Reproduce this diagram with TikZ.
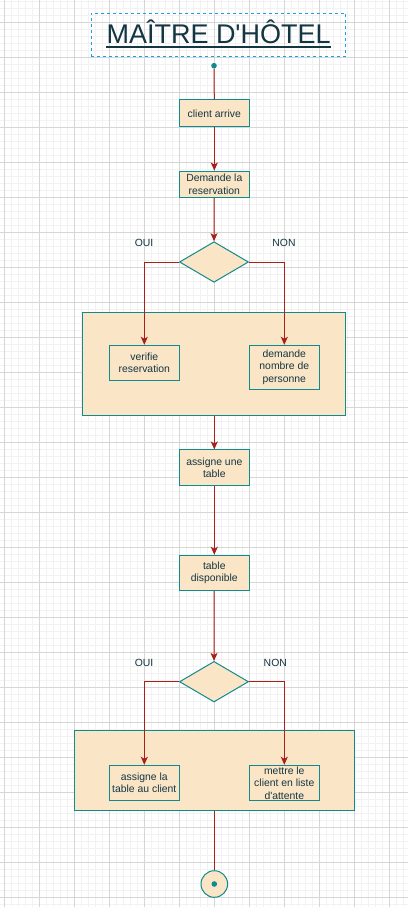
\documentclass[tikz,border=0pt]{standalone}
\usepackage{fontspec}
\setmainfont{Liberation Sans}
\usetikzlibrary{shapes.geometric,arrows.meta}

\definecolor{peach}{HTML}{FAE5C7}
\definecolor{tealline}{HTML}{0F8B8D}
\definecolor{flowred}{HTML}{A8201A}
\definecolor{ink}{HTML}{143642}
\definecolor{titleblue}{HTML}{1BA1E2}
\definecolor{gridmajor}{HTML}{D6D6D6}
\definecolor{gridminor}{HTML}{F2F2F2}

\tikzset{
  labelfont/.style={font=\fontsize{10.4}{12.4}\selectfont, text=ink},
  stepbox/.style={rectangle, draw=tealline, fill=peach, line width=1pt,
    minimum width=70pt, inner sep=0pt, align=center, labelfont},
  groupbox/.style={rectangle, draw=tealline, fill=peach, line width=1pt, inner sep=0pt},
  choice/.style={diamond, draw=tealline, fill=peach, line width=1pt, inner sep=0pt,
    minimum width=69pt, minimum height=40.6pt},
  branchlabel/.style={labelfont, inner sep=0pt},
  flow/.style={draw=flowred, line width=1pt},
  flowarrow/.style={flow, -{Stealth[length=8pt, width=7pt, inset=2pt]}},
  dot/.style={circle, fill=tealline, inner sep=0pt, minimum size=5.6pt},
}

\begin{document}
\begin{tikzpicture}[x=1pt, y=-1pt]
  \useasboundingbox (0,0) rectangle (408,907);
  \fill[white] (0,0) rectangle (408,907);

  % background grid: fine lines every 7, strong lines every 35
  \foreach \k in {0,...,58} {
    \draw[gridminor, line width=0.8pt] ({4.3+7*\k},0) -- ({4.3+7*\k},907);
  }
  \foreach \k in {0,...,129} {
    \draw[gridminor, line width=0.8pt] (0,{1+7*\k}) -- (408,{1+7*\k});
  }
  \foreach \k in {0,...,11} {
    \draw[gridmajor, line width=0.8pt] ({4.3+35*\k},0) -- ({4.3+35*\k},907);
  }
  \foreach \k in {0,...,25} {
    \draw[gridmajor, line width=0.8pt] (0,{22+35*\k}) -- (408,{22+35*\k});
  }

  % title
  \node[draw=titleblue, line width=1pt, dash pattern=on 3pt off 3pt,
        minimum width=254.7pt, minimum height=43.4pt, inner sep=0pt] (titlebox) at (218.4,35) {};
  \node[font=\fontsize{27}{32}\selectfont, text=ink, inner sep=0pt, anchor=base]
        (title) at (218.6,44) {MAÎTRE D\textquotesingle HÔTEL\hspace{0.278em}};
  \draw[ink, line width=1.8pt] ([yshift=-2.8pt]title.base west) -- ([yshift=-2.8pt]title.base east);

  % start
  \node[dot] (start) at (214,65.7) {};

  % first block
  \node[stepbox, minimum height=26.7pt] (arrive) at (214.3,113.3) {client arrive};
  \node[stepbox, minimum height=26.3pt] (askres) at (214.3,184.2) {Demande la\\reservation};
  \node[choice] (dec1) at (214,262) {};
  \node[branchlabel] (oui1) at (144,243.3) {OUI};
  \node[branchlabel] (non1) at (284,243.3) {NON};

  \node[groupbox, minimum width=262.7pt, minimum height=103.4pt] (group1) at (214.3,364) {};
  \node[stepbox, minimum height=35.4pt] (verify) at (144.3,363) {verifie\\reservation};
  \node[stepbox, minimum height=44pt] (count) at (284.3,367.3) {demande\\nombre de\\personne};

  % second block
  \node[stepbox, minimum height=35.7pt] (assign) at (214.3,467.8) {assigne une\\table};
  \node[stepbox, minimum height=35.4pt] (avail) at (214.3,573) {table\\disponible};
  \node[choice] (dec2) at (214,681.7) {};
  \node[branchlabel] (oui2) at (144,662.7) {OUI};
  \node[branchlabel] (non2) at (275.3,662.7) {NON};

  \node[groupbox, minimum width=280pt, minimum height=80pt] (group2) at (214.3,770.7) {};
  \node[stepbox, minimum height=35.4pt] (seat) at (144.3,783) {assigne la\\table au client};
  \node[stepbox, minimum height=35.4pt] (wait) at (284.3,783) {mettre le\\client en liste\\d\textquotesingle attente};

  % end
  \node[circle, draw=tealline, fill=peach, line width=1pt, minimum size=26.6pt, inner sep=0pt] (finish) at (214.3,884) {};
  \node[dot] (finishdot) at (finish.center) {};

  % connectors
  \draw[flow] (start) -- (arrive.north);
  \draw[flowarrow] (arrive) -- (askres);
  \draw[flowarrow] (askres) -- (dec1.north);
  \draw[flowarrow] (dec1.west) -| (verify.north);
  \draw[flowarrow] (dec1.east) -| (count.north);
  \draw[flowarrow] (group1.south) -- (assign.north);
  \draw[flowarrow] (assign) -- (avail);
  \draw[flowarrow] (avail) -- (dec2.north);
  \draw[flowarrow] (dec2.west) -| (seat.north);
  \draw[flowarrow] (dec2.east) -| (wait.north);
  \draw[flow] (group2.south) -- (finish.north);
\end{tikzpicture}
\end{document}
